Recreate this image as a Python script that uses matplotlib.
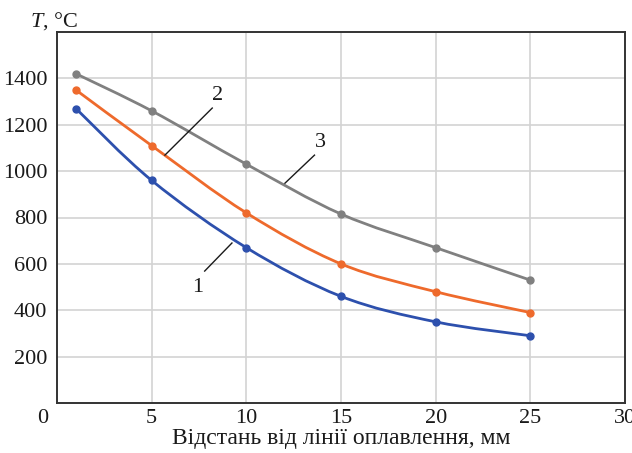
import numpy as np
import matplotlib

matplotlib.use("Agg")
import matplotlib.pyplot as plt
from matplotlib.path import Path
from matplotlib.patches import PathPatch

distance = [1, 5, 10, 15, 20, 25]
temp_1 = [1270, 960, 670, 460, 350, 290]
temp_2 = [1350, 1110, 820, 600, 480, 390]
temp_3 = [1420, 1260, 1030, 815, 670, 530]

x_ticks = [5, 10, 15, 20, 25, 30]
y_ticks = [200, 400, 600, 800, 1000, 1200, 1400]

BLUE = "#2d50ad"
ORANGE = "#ee6a2c"
GRAY = "#808080"
GRID = "#d3d3d3"
INK = "#1a1a1a"

plt.rcParams["font.family"] = ["Liberation Serif", "DejaVu Serif"]
plt.rcParams["mathtext.fontset"] = "custom"
plt.rcParams["mathtext.it"] = "Liberation Serif:italic"
plt.rcParams["mathtext.rm"] = "Liberation Serif"


def smooth_path(x, y):
    """Catmull-Rom curve through the points, as cubic bezier segments."""
    pts = np.column_stack([np.asarray(x, float), np.asarray(y, float)])
    verts = [pts[0]]
    codes = [Path.MOVETO]
    n = len(pts)
    for i in range(n - 1):
        p0 = pts[i - 1] if i > 0 else pts[i]
        p1 = pts[i]
        p2 = pts[i + 1]
        p3 = pts[i + 2] if i + 2 < n else pts[i + 1]
        verts += [p1 + (p2 - p0) / 6, p2 - (p3 - p1) / 6, p2]
        codes += [Path.CURVE4] * 3
    return Path(verts, codes)


fig = plt.figure(figsize=(6.32, 4.53), dpi=100, facecolor="white")
ax = fig.add_axes([57 / 632, 1 - 403 / 453, (625 - 57) / 632, (403 - 32) / 453])

for ys, color in ((temp_1, BLUE), (temp_2, ORANGE), (temp_3, GRAY)):
    ax.add_patch(PathPatch(smooth_path(distance, ys), facecolor="none",
                           edgecolor=color, linewidth=2.0, zorder=3))
    ax.plot(distance, ys, "o", color=color, markersize=5, zorder=4)

ax.set_xlim(0, 30)
ax.set_ylim(0, 1600)
ax.set_xticks(x_ticks)
ax.set_yticks(y_ticks)
ax.grid(True, color=GRID, linewidth=1.2)
ax.set_axisbelow(True)
ax.tick_params(length=0, labelsize=16, colors=INK)
ax.tick_params(axis="y", pad=7)
ax.tick_params(axis="x", pad=4)
for side in ax.spines.values():
    side.set_color("#333333")
    side.set_linewidth(1.4)

ax.text(-0.45, -28, "0", ha="right", va="top", fontsize=16, color=INK)
ax.set_xlabel("Відстань від лінії оплавлення, мм", fontsize=17, color=INK, labelpad=0)
fig.text(30 / 632, 1 - 27 / 453, r"$T$, °C", fontsize=16, color=INK, va="baseline")

# curve labels with leader lines
for (x0, y0, x1, y1, label, tx, ty) in (
    (9.24, 690, 7.8, 569, "1", 7.45, 500),
    (5.7, 1069, 8.2, 1272, "2", 8.5, 1325),
    (12.04, 948, 13.6, 1069, "3", 13.9, 1122),
):
    ax.plot([x0, x1], [y0, y1], color=INK, linewidth=1.0, zorder=5)
    ax.text(tx, ty, label, fontsize=16, color=INK, ha="center", va="center")

fig.savefig("out.png", facecolor="white")
